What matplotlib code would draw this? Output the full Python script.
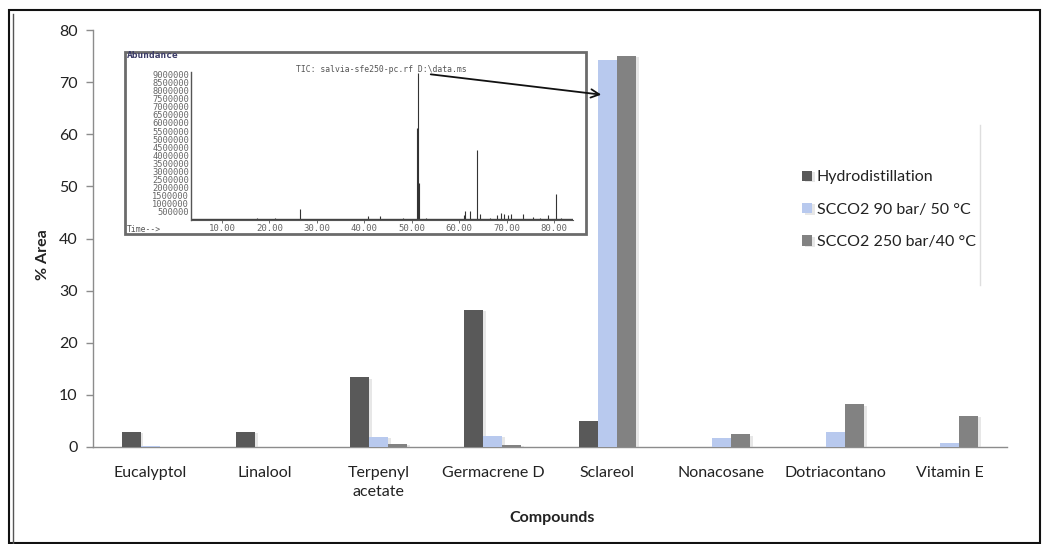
import numpy as np
import matplotlib
matplotlib.use("Agg")
import matplotlib.pyplot as plt
from matplotlib.patches import Rectangle, FancyArrowPatch
from matplotlib.lines import Line2D
import matplotlib.patheffects as pe

# ---- bar chart data (% area) ----
compounds = ["Eucalyptol", "Linalool", "Terpenyl\nacetate", "Germacrene D",
             "Sclareol", "Nonacosane", "Dotriacontano", "Vitamin E"]
hydrodistillation = [2.9, 2.9, 13.4, 26.3, 4.9, 0.0, 0.0, 0.0]
scco2_90_50 = [0.2, 0.0, 1.9, 2.1, 74.3, 1.7, 2.9, 0.8]
scco2_250_40 = [0.0, 0.0, 0.6, 0.4, 75.0, 2.4, 8.2, 6.0]
series_labels = ["Hydrodistillation", "SCCO2 90 bar/ 50 \u00b0C", "SCCO2 250 bar/40 \u00b0C"]
y_ticks = [0, 10, 20, 30, 40, 50, 60, 70, 80]

# ---- chromatogram (TIC) peaks: retention time (min), abundance ----
tic_times = [6.0, 8.5, 12.0, 17.4, 21.2, 22.0, 26.5, 35.0, 40.8, 43.3, 46.0,
             48.2, 51.2, 51.35, 51.5, 53.0, 56.0, 61.0, 61.3, 62.3, 63.7,
             64.3, 66.5, 68.0, 68.8, 69.5, 70.3, 71.0, 73.5, 75.5, 77.0,
             78.8, 80.5, 81.5]
tic_abund = [60000, 90000, 50000, 110000, 150000, 90000, 680000, 60000,
             220000, 250000, 80000, 150000, 5700000, 9100000, 2300000, 120000,
             90000, 300000, 550000, 550000, 4300000, 350000, 150000, 300000,
             420000, 350000, 300000, 380000, 350000, 200000, 150000, 300000,
             1600000, 120000]
tic_yticks = [500000 * k for k in range(1, 19)]
tic_xticks = [10, 20, 30, 40, 50, 60, 70, 80]

W, H = 1042, 544
fig = plt.figure(figsize=(W / 100, H / 100), dpi=100)
fig.patch.set_facecolor("white")

FONT = ["Lato", "DejaVu Sans"]
plt.rcParams["font.family"] = FONT
FS = 11.5
MONO = "DejaVu Sans Mono"


def fx(px):
    return px / W


def fy(py):
    return 1 - py / H


def box(x0, y0, x1, y1):
    return [fx(x0), fy(y1), fx(x1) - fx(x0), fy(y0) - fy(y1)]


# ---- main bar chart ----
ax = fig.add_axes(box(93, 30, 1007, 447))
x = np.arange(len(compounds))
w = 0.167
colors = ["#595959", "#b8c9ee", "#828282"]
shadow = [pe.SimplePatchShadow(offset=(2, -1), shadow_rgbFace="#bdbdbd", alpha=0.35), pe.Normal()]
for i, (vals, col, lab) in enumerate(zip([hydrodistillation, scco2_90_50, scco2_250_40],
                                          colors, series_labels)):
    bars = ax.bar(x + (i - 1) * w, vals, width=w, color=col, label=lab, zorder=3)
    for b in bars:
        b.set_path_effects(shadow)

ax.set_xlim(-0.5, len(compounds) - 0.5)
ax.set_ylim(0, 80)
ax.set_yticks(y_ticks)
ax.set_xticks(x)
ax.set_xticklabels(compounds, fontsize=FS, color="#222222", linespacing=1.45)
ax.tick_params(axis="x", length=0, pad=14)
ax.tick_params(axis="y", direction="out", length=5, width=1, color="#8c8c8c",
               labelsize=FS, labelcolor="#222222", pad=6)
for s in ["top", "right"]:
    ax.spines[s].set_visible(False)
for s in ["left", "bottom"]:
    ax.spines[s].set_color("#8c8c8c")
    ax.spines[s].set_linewidth(1.0)

fig.text(fx(43), fy(255), "% Area", rotation=90, ha="center", va="center",
         fontsize=FS, fontweight="bold", color="#222222")
fig.text(fx(552), fy(518), "Compounds", ha="center", va="center",
         fontsize=FS, fontweight="bold", color="#222222")

# legend
leg = ax.legend(loc="upper left", bbox_to_anchor=(fx(796), fy(164)),
                bbox_transform=fig.transFigure, frameon=False, fontsize=FS,
                handlelength=0.6, handleheight=0.6, handletextpad=0.3,
                labelspacing=1.15, borderaxespad=0)
for t in leg.get_texts():
    t.set_color("#222222")
fig.add_artist(Line2D([fx(980), fx(980)], [fy(125), fy(285)], color="#dedede", lw=1))

# ---- chromatogram inset ----
fig.add_artist(Rectangle((fx(125), fy(234)), fx(586) - fx(125), fy(52) - fy(234),
                         transform=fig.transFigure, facecolor="white",
                         edgecolor="#6b6b6b", lw=2, zorder=4))
iax = fig.add_axes(box(191, 72, 573, 220), zorder=5)
iax.patch.set_alpha(0)
iax.vlines(tic_times, 40000, tic_abund, color="#333333", lw=0.8)
iax.plot([3.5, 84.0], [40000, 40000], color="#444444", lw=1.0)
iax.set_xlim(3.5, 84.0)
iax.set_ylim(0, 9.15e6)
iax.set_yticks(tic_yticks)
iax.set_yticklabels([str(v) for v in tic_yticks], family=MONO,
                    fontsize=6.3, color="#666666")
iax.set_xticks(tic_xticks)
iax.set_xticklabels(["%d.00" % v for v in tic_xticks], family=MONO,
                    fontsize=6.5, color="#666666")
iax.tick_params(axis="y", length=0, pad=1.5)
iax.tick_params(axis="x", length=2, width=0.6, color="#555555", pad=1.0)
for s in ["top", "right"]:
    iax.spines[s].set_visible(False)
iax.spines["left"].set_color("#555555")
iax.spines["bottom"].set_color("#555555")
iax.spines["left"].set_linewidth(1.0)
iax.spines["bottom"].set_linewidth(0.8)

fig.text(fx(127), fy(56), "Abundance", ha="left", va="center", fontsize=6.8,
         family=MONO, color="#3a3a66", zorder=6, fontweight="bold")
fig.text(fx(381), fy(69), "TIC: salvia-sfe250-pc.rf D:\\data.ms", ha="center",
         va="center", fontsize=5.9, family=MONO, color="#555555", zorder=6)
fig.text(fx(127), fy(229), "Time-->", ha="left", va="center", fontsize=5.8,
         family=MONO, color="#555555", zorder=6)

# arrow from the chromatogram title to the sclareol bar
fig.add_artist(FancyArrowPatch(
    (fx(428), fy(74)), (fx(604), fy(95)), transform=fig.transFigure,
    arrowstyle="->,head_length=6,head_width=3", color="#111111", lw=1.3, zorder=7))

# outer frame
fig.add_artist(Rectangle((fx(9), fy(543)), fx(1040) - fx(9), fy(10) - fy(543),
                         transform=fig.transFigure, fill=False, edgecolor="#111111", lw=1.5))
fig.add_artist(Line2D([fx(13), fx(13)], [fy(543), fy(14)], color="#555555", lw=1))

fig.savefig("out.png", dpi=100)
